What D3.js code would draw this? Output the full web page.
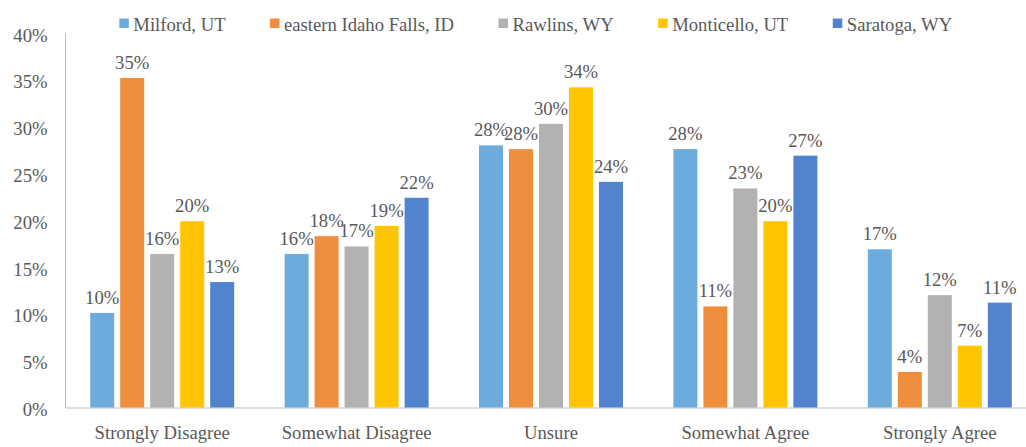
<!DOCTYPE html>
<html>
<head>
<meta charset="utf-8">
<script src="https://cdn.jsdelivr.net/npm/d3@7"></script>
<style>
  body { margin: 0; background: #fff; }
</style>
</head>
<body>
<svg id="chart" width="1026" height="447"></svg>
<script>
// Survey responses by community (share of respondents)
const categories = ["Strongly Disagree", "Somewhat Disagree", "Unsure", "Somewhat Agree", "Strongly Agree"];
const seriesNames = ["Milford, UT", "eastern Idaho Falls, ID", "Rawlins, WY", "Monticello, UT", "Saratoga, WY"];
const milford    = [0.101, 0.164, 0.280, 0.276, 0.169];
const idahoFalls = [0.352, 0.183, 0.276, 0.108, 0.038];
const rawlins    = [0.164, 0.172, 0.303, 0.234, 0.120];
const monticello = [0.199, 0.194, 0.342, 0.199, 0.066];
const saratoga   = [0.134, 0.224, 0.241, 0.269, 0.112];
const yTicks = [0, 0.05, 0.10, 0.15, 0.20, 0.25, 0.30, 0.35, 0.40];
const colors = ["#6DABDC", "#EF8F3D", "#B2B2B2", "#FFC503", "#5283CE"];

const FONT = "'Liberation Serif', 'Times New Roman', Times, serif";
const TEXT_COLOR = "#595959";

const seriesValues = [milford, idahoFalls, rawlins, monticello, saratoga];
const rows = categories.map((c, i) => ({
  category: c,
  values: seriesNames.map((s, j) => ({ series: s, value: seriesValues[j][i], color: colors[j] }))
}));

const svg = d3.select("#chart");
const plotLeft = 65, plotRight = 1037, plotTop = 33, plotBottom = 407.5;

const x0 = d3.scaleBand().domain(categories).range([plotLeft, plotRight]);
const x1 = d3.scaleBand().domain(seriesNames).range([0, x0.bandwidth()])
  .paddingInner(0.2).paddingOuter(0.84);
const y = d3.scaleLinear().domain([0, 0.4]).range([plotBottom, plotTop]);
const pct = d3.format(".0%");

function styleText(sel) {
  sel.style("font-family", FONT).style("font-size", "18.67px").style("fill", TEXT_COLOR);
}

// y axis
const yAxis = svg.append("g")
  .attr("transform", `translate(${plotLeft},0)`)
  .call(d3.axisLeft(y).tickValues(yTicks).tickFormat(pct).tickSizeInner(0).tickSizeOuter(0).tickPadding(17.5));
yAxis.select(".domain").attr("stroke", "#BFBFBF");
yAxis.selectAll("text").attr("dy", "0.43em").call(styleText);

// x axis
const xAxis = svg.append("g")
  .attr("transform", `translate(0,${plotBottom})`)
  .call(d3.axisBottom(x0).tickSizeInner(0).tickSizeOuter(0).tickPadding(18));
xAxis.select(".domain").attr("stroke", "#BFBFBF");
xAxis.selectAll("text").call(styleText);

// bars
const groups = svg.append("g").selectAll("g")
  .data(rows).join("g")
  .attr("transform", d => `translate(${x0(d.category)},0)`);

groups.selectAll("rect")
  .data(d => d.values).join("rect")
  .attr("x", d => x1(d.series))
  .attr("y", d => y(d.value))
  .attr("width", x1.bandwidth())
  .attr("height", d => plotBottom - y(d.value))
  .attr("fill", d => d.color);

// value labels above bars
groups.selectAll("text.value")
  .data(d => d.values).join("text")
  .attr("class", "value")
  .attr("x", d => x1(d.series) + x1.bandwidth() / 2)
  .attr("y", d => y(d.value) - 9)
  .attr("text-anchor", "middle")
  .text(d => pct(d.value))
  .call(styleText);

// legend
const legend = svg.append("g").attr("transform", "translate(119.3,0)");
let cursor = 0;
seriesNames.forEach((s, i) => {
  const item = legend.append("g").attr("transform", `translate(${cursor},0)`);
  item.append("rect").attr("x", 0).attr("y", 18.5).attr("width", 9.5).attr("height", 9.5).attr("fill", colors[i]);
  const t = item.append("text").attr("x", 14).attr("y", 31).text(s).call(styleText);
  cursor += 14 + t.node().getComputedTextLength() + 44.5;
});
</script>
</body>
</html>
